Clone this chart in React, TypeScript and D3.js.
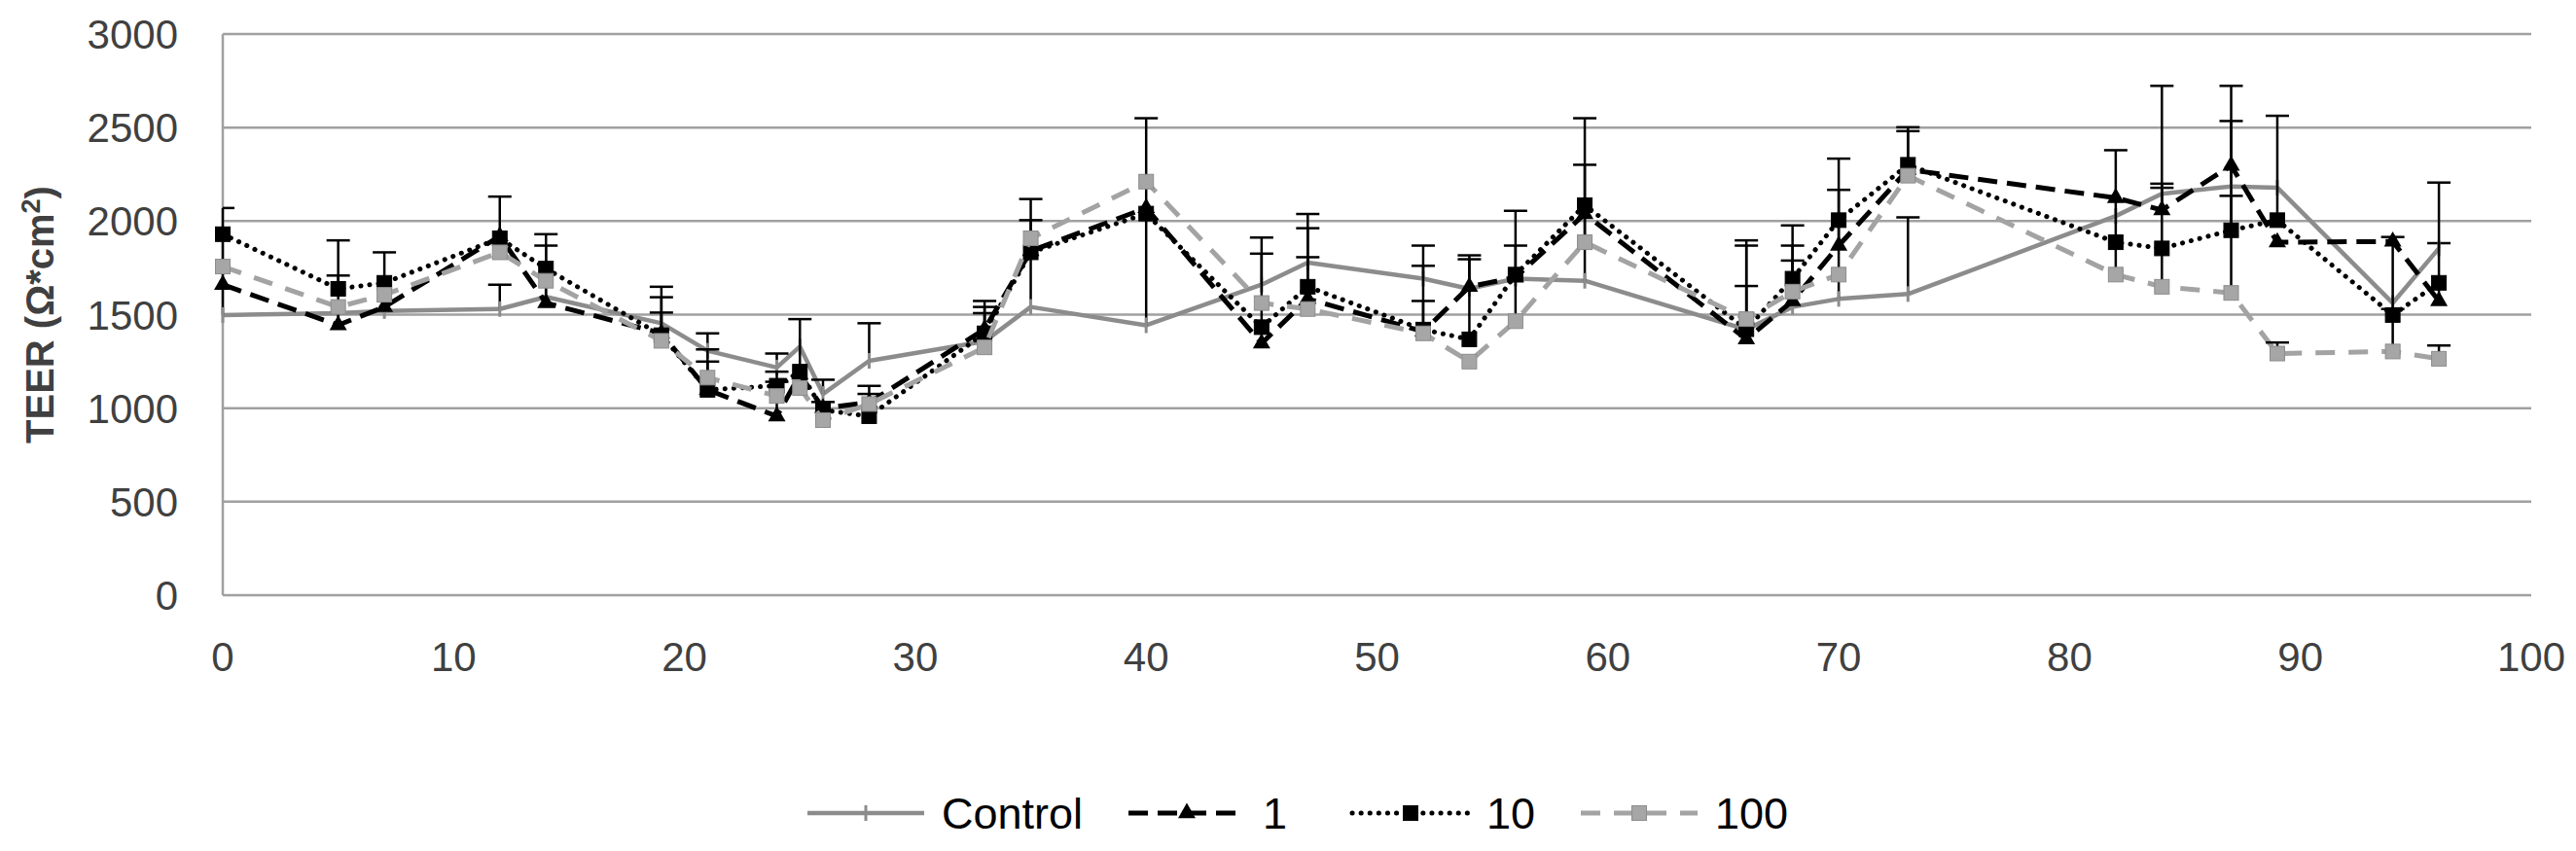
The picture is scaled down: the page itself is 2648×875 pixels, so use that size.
import React from 'react';
import * as d3 from 'd3';

// sampling days (x axis)
const days = [0, 5, 7, 12, 14, 19, 21, 24, 25, 26, 28, 33, 35, 40, 45, 47, 52, 54, 56, 59, 66, 68, 70, 73, 82, 84, 87, 89, 94, 96];

// TEER means per group
const control = [1498, 1508, 1519, 1530, 1595, 1454, 1307, 1217, 1329, 1076, 1253, 1357, 1541, 1443, 1660, 1778, 1692, 1638, 1692, 1681, 1420, 1541, 1584, 1610, 2027, 2146, 2185, 2179, 1562, 1854];
const dose1 = [1660, 1444, 1541, 1919, 1562, 1400, 1098, 957, 1180, 1000, 1030, 1422, 1840, 2070, 1346, 1584, 1410, 1649, 1700, 2038, 1368, 1573, 1869, 2275, 2124, 2059, 2297, 1887, 1891, 1573];
const dose10 = [1930, 1638, 1670, 1908, 1746, 1390, 1098, 1120, 1195, 990, 957, 1400, 1833, 2040, 1433, 1649, 1420, 1368, 1714, 2085, 1422, 1692, 2005, 2301, 1887, 1854, 1951, 2005, 1498, 1670];
const dose100 = [1757, 1541, 1606, 1833, 1681, 1360, 1163, 1065, 1108, 936, 1022, 1325, 1908, 2211, 1562, 1530, 1400, 1249, 1465, 1887, 1476, 1623, 1714, 2243, 1714, 1649, 1616, 1292, 1303, 1264];

// upper error bars (0 = none visible)
const controlErr = [572, 0, 0, 130, 0, 195, 93, 75, 0, 76, 201, 151, 577, 1107, 166, 260, 69, 158, 0, 869, 0, 436, 750, 410, 0, 32, 350, 0, 0, 28];
const dose1Err = [0, 453, 292, 0, 368, 0, 0, 238, 0, 0, 0, 151, 0, 0, 566, 0, 0, 0, 0, 0, 529, 296, 298, 0, 0, 141, 0, 0, 0, 633];
const dose10Err = [0, 71, 0, 223, 123, 203, 216, 0, 281, 0, 162, 141, 172, 0, 0, 313, 153, 449, 155, 0, 447, 0, 0, 201, 0, 0, 184, 558, 32, 0];
const dose100Err = [0, 0, 0, 0, 0, 151, 86, 76, 0, 97, 54, 0, 0, 0, 0, 277, 469, 0, 590, 414, 177, 166, 0, 238, 665, 1074, 1107, 59, 612, 71];

const seriesNames = ['Control', '1', '10', '100'];
const yTicks = [0, 500, 1000, 1500, 2000, 2500, 3000];
const xTicks = [0, 10, 20, 30, 40, 50, 60, 70, 80, 90, 100];

const W = 2648;
const H = 875;
const FONT = "'Liberation Sans', Arial, sans-serif";

const styles = [
  { stroke: '#8c8c8c', width: 4.5, dash: null as string | null, cap: 'butt', marker: 'plus', fill: '#8c8c8c' },
  { stroke: '#000000', width: 5, dash: '20 10', cap: 'butt', marker: 'triangle', fill: '#000000' },
  { stroke: '#000000', width: 5, dash: '0.1 9', cap: 'round', marker: 'square', fill: '#000000' },
  { stroke: '#a3a3a3', width: 5, dash: '20 14', cap: 'butt', marker: 'square', fill: '#a6a6a6' },
];

const Marker: React.FC<{ kind: string; cx: number; cy: number; fill: string }> = ({ kind, cx, cy, fill }) => {
  if (kind === 'triangle') {
    const p = d3.symbol().type(d3.symbolTriangle).size(140)();
    return <path d={p || ''} transform={`translate(${cx},${cy})`} fill={fill} />;
  }
  if (kind === 'square') {
    return <rect x={cx - 7.5} y={cy - 7.5} width={15} height={15} fill={fill} stroke={fill === '#000000' ? '#000' : '#8c8c8c'} strokeWidth={1} />;
  }
  return (
    <g stroke={fill} strokeWidth={3}>
      <line x1={cx} x2={cx} y1={cy - 8} y2={cy + 8} />
    </g>
  );
};

const App: React.FC = () => {
  const x = d3.scaleLinear().domain([0, 100]).range([229, 2602]);
  const y = d3.scaleLinear().domain([0, 3000]).range([612, 35]);

  const values = [control, dose1, dose10, dose100];
  const errors = [controlErr, dose1Err, dose10Err, dose100Err];

  const line = d3.line<number>()
    .x((_, i) => x(days[i]))
    .y(d => y(d));

  const legendX = [830, 1160, 1390, 1625];
  const legendLen = 120;
  const legendY = 836;

  return (
    <svg width={W} height={H} style={{ position: 'absolute', left: 0, top: 0, background: '#fff' }} fontFamily={FONT}>
      <rect width={W} height={H} fill="#fff" />
      {/* gridlines */}
      {yTicks.map(t => (
        <line key={t} x1={x(0)} x2={x(100)} y1={y(t)} y2={y(t)} stroke="#a0a0a0" strokeWidth={2.5} />
      ))}
      <line x1={x(0)} x2={x(0)} y1={y(0)} y2={y(3000)} stroke="#a0a0a0" strokeWidth={2.5} />

      {/* y tick labels */}
      {yTicks.map(t => (
        <text key={t} x={183} y={y(t)} dy="0.36em" textAnchor="end" fontSize={42} fill="#404040">{t}</text>
      ))}
      {/* x tick labels */}
      {xTicks.map(t => (
        <text key={t} x={x(t)} y={690} textAnchor="middle" fontSize={42} fill="#404040">{t}</text>
      ))}

      {/* y axis title */}
      <text transform={`translate(55,${(y(0) + y(3000)) / 2}) rotate(-90)`} textAnchor="middle" fontSize={40} fontWeight="bold" fill="#404040">
        TEER (Ω*cm<tspan dy="-14" fontSize={27}>2</tspan><tspan dy="14">)</tspan>
      </text>

      {/* series */}
      {values.map((vals, s) => {
        const st = styles[s];
        return (
          <g key={seriesNames[s]}>
            <path d={line(vals) || ''} fill="none" stroke={st.stroke} strokeWidth={st.width}
              strokeDasharray={st.dash || undefined} strokeLinecap={st.cap as any} strokeLinejoin="round" />
            {vals.map((v, i) => errors[s][i] > 0 ? (
              <g key={i} stroke="#000" strokeWidth={2.5}>
                <line x1={x(days[i])} x2={x(days[i])} y1={y(v)} y2={y(v + errors[s][i])} />
                <line x1={Math.max(x(0), x(days[i]) - 12)} x2={x(days[i]) + 12} y1={y(v + errors[s][i])} y2={y(v + errors[s][i])} />
              </g>
            ) : null)}
            {vals.map((v, i) => (
              <Marker key={'m' + i} kind={st.marker} cx={x(days[i])} cy={y(v)} fill={st.fill} />
            ))}
          </g>
        );
      })}

      {/* legend */}
      {seriesNames.map((name, s) => {
        const st = styles[s];
        const x0 = legendX[s];
        return (
          <g key={name}>
            <line x1={x0} x2={x0 + legendLen} y1={legendY} y2={legendY} stroke={st.stroke} strokeWidth={st.width}
              strokeDasharray={st.dash || undefined} strokeLinecap={st.cap as any} />
            <Marker kind={st.marker} cx={x0 + legendLen / 2} cy={legendY} fill={st.fill} />
            <text x={x0 + legendLen + 18} y={legendY} dy="0.36em" fontSize={45} fill="#000">{name}</text>
          </g>
        );
      })}
    </svg>
  );
};

export default App;
